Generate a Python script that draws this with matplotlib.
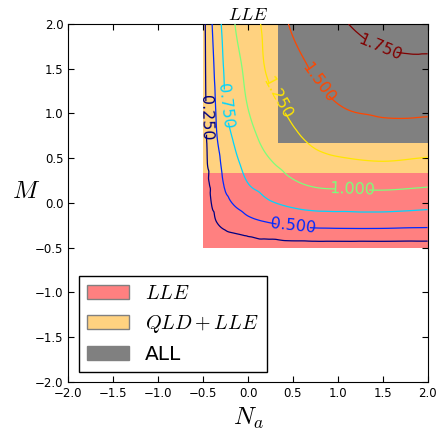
import numpy as np
import matplotlib
matplotlib.use("Agg")
import matplotlib.pyplot as plt
import matplotlib.tri as mtri
from matplotlib.patches import Patch

plt.rcParams["mathtext.fontset"] = "cm"
plt.rcParams["font.family"] = "DejaVu Sans"

# grid of the LLE value over (N_a, M)
na_nodes = [-0.5, -0.47, -0.4, -0.35, -0.25, -0.15, 0.0, 0.2, 0.45, 0.75, 1.1, 1.5, 2.0]
m_nodes = [-0.5, -0.45, -0.35, -0.2, 0.0, 0.2, 0.45, 0.75, 1.1, 1.5, 2.0]
lle_vals = [
    [0, 0.00, 0.00, 0.00, 0.00, 0.00, 0.00, 0.00, 0.00, 0.00, 0.00, 0.00, 0.00],
    [0, 0.06, 0.10, 0.11, 0.13, 0.15, 0.17, 0.18, 0.19, 0.195, 0.195, 0.195, 0.19],
    [0, 0.09, 0.15, 0.18, 0.22, 0.24, 0.27, 0.30, 0.35, 0.38, 0.39, 0.39, 0.385],
    [0, 0.12, 0.21, 0.255, 0.31, 0.37, 0.45, 0.515, 0.58, 0.62, 0.625, 0.625, 0.60],
    [0, 0.15, 0.26, 0.30, 0.44, 0.52, 0.61, 0.71, 0.79, 0.84, 0.85, 0.86, 0.83],
    [0, 0.17, 0.28, 0.35, 0.53, 0.60, 0.74, 0.83, 0.945, 1.02, 1.04, 1.05, 1.02],
    [0, 0.20, 0.31, 0.41, 0.60, 0.70, 0.83, 0.96, 1.07, 1.175, 1.22, 1.24, 1.21],
    [0, 0.22, 0.35, 0.49, 0.675, 0.78, 0.92, 1.07, 1.19, 1.31, 1.37, 1.41, 1.39],
    [0, 0.245, 0.39, 0.535, 0.756, 0.84, 1.01, 1.17, 1.29, 1.42, 1.52, 1.555, 1.56],
    [0, 0.27, 0.44, 0.58, 0.79, 0.91, 1.065, 1.26, 1.38, 1.53, 1.62, 1.68, 1.70],
    [0, 0.30, 0.50, 0.64, 0.84, 0.995, 1.13, 1.30, 1.50, 1.61, 1.745, 1.84, 1.84],
]
levels = [0.25, 0.5, 0.75, 1.0, 1.25, 1.5, 1.75]
label_spots = [(-0.46, 0.95), (0.5, -0.28), (-0.26, 1.08), (1.16, 0.14),
               (0.30, 1.16), (0.76, 1.32), (1.48, 1.75)]

# validity regions
na_lo, na_split, na_hi = -0.5, 1.0 / 3.0, 2.0
m_lo, m_lle, m_all, m_hi = -0.5, 1.0 / 3.0, 2.0 / 3.0, 2.0
region_names = ["$LLE$", "$QLD+LLE$", "ALL"]
region_colors = ["#ff8080", "#ffd280", "#808080"]

fig = plt.figure(figsize=(4.39, 4.36), dpi=100)
ax = fig.add_axes([0.156, 0.124, 0.818, 0.821])

ax.fill_between([na_lo, na_hi], m_lo, m_lle, color=region_colors[0], lw=0, zorder=1)
ax.fill_between([na_lo, na_hi], m_lle, m_hi, color=region_colors[1], lw=0, zorder=1)
ax.fill_between([na_split, na_hi], m_all, m_hi, color=region_colors[2], lw=0, zorder=1)

# smooth the coarse table with matplotlib's triangulation refiner
NA, MM = np.meshgrid(na_nodes, m_nodes)
z = np.array(lle_vals).ravel()
tri = mtri.Triangulation(NA.ravel(), MM.ravel())
interp = mtri.CubicTriInterpolator(tri, z, kind="geom")
tri_fine, z_fine = mtri.UniformTriRefiner(tri).refine_field(z, triinterpolator=interp, subdiv=3)

cs = ax.tricontour(tri_fine, z_fine, levels=levels, cmap="jet", linewidths=0.9, zorder=3)
ax.clabel(cs, fmt="%1.3f", fontsize=11.5, manual=label_spots, inline_spacing=4)

ax.set_xlim(-2, 2)
ax.set_ylim(-2, 2)
ax.set_xticks(np.arange(-2, 2.01, 0.5))
ax.set_yticks(np.arange(-2, 2.01, 0.5))
ax.tick_params(direction="in", top=True, right=True, labelsize=8.5, length=4, width=0.8)
ax.set_xlabel("$N_a$", fontsize=18)
ax.set_ylabel("$M$", fontsize=18, rotation=0, labelpad=6.5)
ax.set_title("$LLE$", fontsize=13, pad=3)

handles = [Patch(facecolor=c, edgecolor="#808080", label=n)
           for c, n in zip(region_colors, region_names)]
leg = ax.legend(handles=handles, loc="lower left", fontsize=14.5, fancybox=False,
                framealpha=1, edgecolor="black", handlelength=2.1, borderpad=0.4,
                labelspacing=0.5, handletextpad=0.8)
leg.get_frame().set_linewidth(1.0)

fig.savefig("out.png", dpi=100)
